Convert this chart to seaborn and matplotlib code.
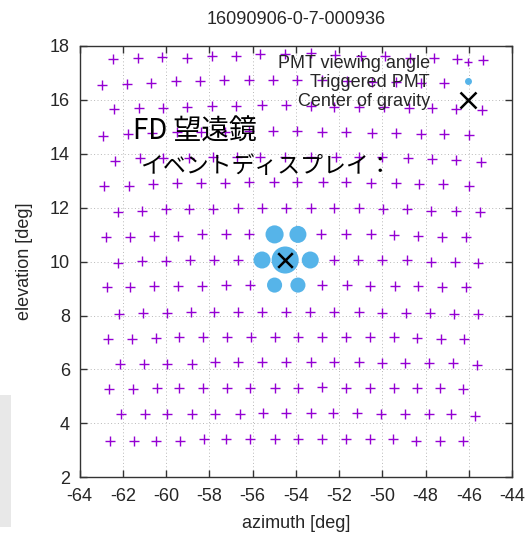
import matplotlib
matplotlib.use("Agg")
import matplotlib.pyplot as plt
import seaborn as sns
import pandas as pd
from matplotlib.lines import Line2D
from matplotlib.patches import Rectangle

# ---------------- data ----------------
title = "16090906-0-7-000936"

# PMT viewing directions, one list per camera row (azimuth, elevation in deg)
az_rows = [
    [-62.46, -61.28, -60.19, -59.01, -57.88, -56.75, -55.64, -54.49, -53.31, -52.19, -51.00, -49.87, -48.73, -47.60, -46.56, -45.33],
    [-62.97, -61.79, -60.70, -59.55, -58.45, -57.31, -56.14, -55.03, -53.92, -52.77, -51.63, -50.49, -49.35, -48.20, -47.13],
    [-62.39, -61.23, -60.15, -59.01, -57.88, -56.75, -55.56, -54.44, -53.31, -52.22, -51.07, -49.92, -48.76, -47.68, -46.60, -45.40],
    [-62.93, -61.77, -60.66, -59.50, -58.39, -57.26, -56.14, -55.03, -53.94, -52.77, -51.66, -50.49, -49.38, -48.22, -47.14, -45.98],
    [-62.36, -61.20, -60.12, -58.96, -57.81, -56.72, -55.64, -54.49, -53.31, -52.16, -51.07, -50.00, -48.79, -47.71, -46.60, -45.44],
    [-62.87, -61.69, -60.61, -59.50, -58.39, -57.26, -56.14, -55.00, -53.92, -52.74, -51.66, -50.54, -49.38, -48.30, -47.19, -46.01],
    [-62.23, -61.12, -60.00, -58.92, -57.81, -56.69, -55.56, -54.44, -53.31, -52.23, -51.07, -49.96, -48.84, -47.76, -46.60, -45.49],
    [-62.77, -61.66, -60.55, -59.43, -58.34, -57.22, -56.14, -54.98, -53.90, -52.81, -51.66, -50.54, -49.45, -48.33, -47.22, -46.11],
    [-62.23, -61.12, -60.00, -58.88, -57.77, -56.65, -55.56, -54.49, -53.33, -52.23, -51.11, -50.03, -48.87, -47.76, -46.63, -45.55],
    [-62.74, -61.66, -60.54, -59.46, -58.35, -57.22, -56.11, -54.98, -53.90, -52.79, -51.63, -50.55, -49.43, -48.36, -47.23, -46.11],
    [-62.16, -61.07, -59.96, -58.85, -57.77, -56.65, -55.56, -54.46, -53.33, -52.22, -51.09, -50.01, -48.88, -47.77, -46.69, -45.58],
    [-62.67, -61.58, -60.47, -59.38, -58.27, -57.19, -56.07, -54.98, -53.88, -52.79, -51.66, -50.58, -49.47, -48.39, -47.28, -46.23],
    [-62.13, -61.01, -59.94, -58.81, -57.73, -56.65, -55.54, -54.45, -53.31, -52.22, -51.09, -50.01, -48.93, -47.85, -46.74, -45.64],
    [-62.62, -61.54, -60.43, -59.38, -58.27, -57.19, -56.11, -54.98, -53.88, -52.79, -51.66, -50.58, -49.47, -48.39, -47.31, -46.26],
    [-62.09, -60.97, -59.94, -58.81, -57.73, -56.60, -55.52, -54.45, -53.31, -52.30, -51.17, -50.06, -48.96, -47.85, -46.81, -45.69],
    [-62.59, -61.48, -60.46, -59.35, -58.24, -57.22, -56.11, -54.98, -53.88, -52.79, -51.66, -50.58, -49.50, -48.42, -47.31, -46.28],
]
el_rows = [
    [17.51, 17.54, 17.59, 17.57, 17.63, 17.63, 17.69, 17.69, 17.73, 17.65, 17.63, 17.63, 17.57, 17.57, 17.53, 17.48],
    [16.54, 16.60, 16.64, 16.70, 16.70, 16.73, 16.73, 16.73, 16.73, 16.73, 16.70, 16.68, 16.66, 16.64, 16.62],
    [15.65, 15.69, 15.71, 15.74, 15.77, 15.77, 15.80, 15.80, 15.77, 15.75, 15.74, 15.74, 15.71, 15.71, 15.67, 15.63],
    [14.66, 14.72, 14.76, 14.81, 14.81, 14.81, 14.85, 14.85, 14.83, 14.81, 14.81, 14.76, 14.76, 14.72, 14.72, 14.69],
    [13.73, 13.83, 13.83, 13.83, 13.87, 13.87, 13.89, 13.89, 13.89, 13.89, 13.89, 13.89, 13.83, 13.81, 13.77, 13.71],
    [12.81, 12.82, 12.87, 12.91, 12.91, 12.91, 12.94, 12.94, 12.94, 12.94, 12.94, 12.91, 12.91, 12.87, 12.87, 12.81],
    [11.85, 11.89, 11.94, 11.94, 11.94, 11.98, 11.98, 11.98, 11.98, 11.98, 11.98, 11.94, 11.94, 11.89, 11.89, 11.85],
    [10.90, 10.92, 10.95, 10.95, 11.01, 11.01, 11.02, 11.01, 11.01, 11.02, 11.02, 11.02, 10.99, 10.96, 10.92, 10.90],
    [9.96, 10.02, 10.02, 10.06, 10.06, 10.06, 10.06, 10.06, 10.06, 10.06, 10.06, 10.06, 10.06, 10.00, 10.00, 9.96],
    [9.05, 9.05, 9.09, 9.09, 9.09, 9.13, 9.13, 9.13, 9.13, 9.13, 9.13, 9.09, 9.09, 9.09, 9.05, 9.05],
    [8.04, 8.10, 8.10, 8.14, 8.14, 8.14, 8.14, 8.14, 8.14, 8.14, 8.14, 8.10, 8.10, 8.08, 8.06, 8.04],
    [7.13, 7.13, 7.15, 7.19, 7.19, 7.19, 7.19, 7.19, 7.19, 7.19, 7.19, 7.19, 7.19, 7.15, 7.13, 7.13],
    [6.20, 6.20, 6.20, 6.20, 6.26, 6.29, 6.26, 6.29, 6.29, 6.29, 6.29, 6.23, 6.23, 6.23, 6.23, 6.16],
    [5.26, 5.26, 5.32, 5.32, 5.32, 5.32, 5.32, 5.32, 5.32, 5.36, 5.32, 5.32, 5.32, 5.32, 5.30, 5.28],
    [4.33, 4.33, 4.33, 4.33, 4.33, 4.33, 4.37, 4.37, 4.37, 4.37, 4.37, 4.33, 4.33, 4.33, 4.33, 4.28],
    [3.35, 3.35, 3.35, 3.35, 3.41, 3.41, 3.41, 3.41, 3.41, 3.41, 3.41, 3.41, 3.41, 3.35, 3.35, 3.35],
]

# triggered PMTs (azimuth, elevation, relative signal)
trig_az = [-54.98, -53.90, -55.56, -54.49, -53.33, -54.98, -53.90]
trig_el = [11.01, 11.01, 10.06, 10.06, 10.06, 9.13, 9.13]
trig_signal = [170, 150, 150, 380, 150, 118, 118]

# center of gravity
cog_az = [-54.49]
cog_el = [10.06]

x_ticks = list(range(-64, -43, 2))
y_ticks = list(range(2, 19, 2))

legend_labels = ["PMT viewing angle", "Triggered PMT", "Center of gravity"]
overlay_line1 = "FD 望遠鏡"
overlay_line2 = "イベントディスプレイ："

# ---------------- tables ----------------
pmt = pd.DataFrame({
    "azimuth": [a for row in az_rows for a in row],
    "elevation": [e for row in el_rows for e in row],
})
trig = pd.DataFrame({"azimuth": trig_az, "elevation": trig_el, "signal": trig_signal})
cog = pd.DataFrame({"azimuth": cog_az, "elevation": cog_el})

# ---------------- style ----------------
sns.set_theme(style="white")
plt.rcParams["font.family"] = ["Liberation Sans", "DejaVu Sans"]
TXT = "#262626"
PURPLE = "#9400d3"
BLUE = "#56b4e9"
FS = 13

fig = plt.figure(figsize=(5.29, 5.34), dpi=100)
ax = fig.add_axes([0.1503, 0.1062, 0.8176, 0.8077])

sns.scatterplot(data=pmt, x="azimuth", y="elevation", marker="+", s=42,
                color=PURPLE, linewidth=1.0, ax=ax, legend=False, zorder=3)
sns.scatterplot(data=trig, x="azimuth", y="elevation", size="signal",
                sizes=(118, 380), size_norm=(118, 380), color=BLUE,
                edgecolor="none", ax=ax, legend=False, zorder=4)
sns.scatterplot(data=cog, x="azimuth", y="elevation", marker="x", s=110,
                color="black", linewidth=1.8, ax=ax, legend=False, zorder=5)

ax.set_xlim(-64, -44)
ax.set_ylim(2, 18)
ax.set_xticks(x_ticks)
ax.set_yticks(y_ticks)
ax.set_xticklabels([str(t) for t in x_ticks])
ax.set_yticklabels([str(t) for t in y_ticks])
ax.tick_params(direction="in", length=5, width=1, color="#333333",
               labelsize=FS, labelcolor=TXT, pad=7,
               top=True, right=True, bottom=True, left=True)
ax.tick_params(axis="x", pad=8)
ax.grid(True, color="#b8b8b8", linestyle=(0, (1, 2.5)), linewidth=0.7, zorder=0)
ax.set_axisbelow(True)
for sp in ax.spines.values():
    sp.set_color("#333333")
    sp.set_linewidth(1.0)

ax.set_xlabel("azimuth [deg]", fontsize=FS, color=TXT, labelpad=7)
ax.set_ylabel("elevation [deg]", fontsize=FS, color=TXT, labelpad=12)
ax.set_title(title, fontsize=FS, color=TXT, pad=16)

handles = [
    Line2D([], [], linestyle="none", marker="+", markersize=6, markeredgewidth=1.0, color=PURPLE),
    Line2D([], [], linestyle="none", marker="o", markersize=5, markeredgewidth=0, color=BLUE),
    Line2D([], [], linestyle="none", marker="x", markersize=11, markeredgewidth=1.8, color="black"),
]
leg = ax.legend(handles, legend_labels, loc="upper right", bbox_to_anchor=(0.923, 0.978),
                frameon=False, markerfirst=False, fontsize=FS, handlelength=1.2,
                handletextpad=1.5, labelspacing=0.1, borderaxespad=0, borderpad=0)
leg.set_zorder(6)
for t in leg.get_texts():
    t.set_color(TXT)
try:
    vp = leg._legend_box._children[-1]._children[0]
    vp.align = "right"
except Exception:
    pass

# overlay caption
jp = ["Noto Sans CJK JP", "DejaVu Sans"]
fig.text(133 / 529, 1 - 140 / 534, overlay_line1, fontsize=20, family=jp,
         color="black", va="baseline", ha="left", zorder=10)
fig.text(140 / 529, 1 - 173 / 534, overlay_line2, fontsize=16.5, family=jp,
         color="black", va="baseline", ha="left", zorder=10)

# grey page background strip on the left
fig.add_artist(Rectangle((0, 1 - 527 / 534), 11 / 529, (527 - 395) / 534,
                         transform=fig.transFigure, facecolor="#e8e8e8",
                         edgecolor="none", zorder=-1))

fig.savefig("out.png", dpi=100)
